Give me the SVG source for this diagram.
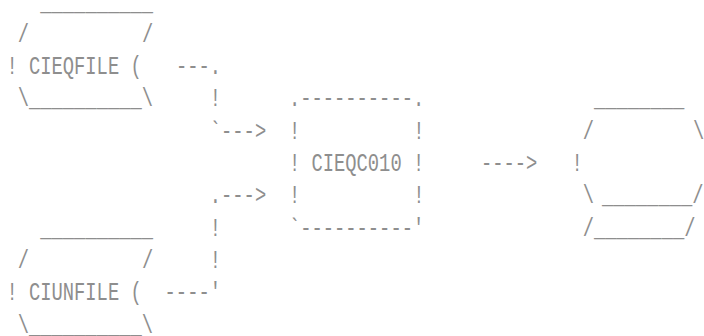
<svg xmlns="http://www.w3.org/2000/svg" width="704" height="336" viewBox="0 0 704 336">
<style>
text{font-family:"Liberation Mono","DejaVu Sans Mono",monospace;font-size:18.8px;fill:#8e8e8e;white-space:pre}
</style>
<rect width="704" height="336" fill="#ffffff"/>
<g id="cieqfile">
<text x="40.3" transform="translate(0 9.5) scale(1 1.35)">__________</text>
<text x="17.7" transform="translate(0 41.8) scale(1 1.35)">/</text>
<text x="142" transform="translate(0 41.8) scale(1 1.35)">/</text>
<text x="6.4" transform="translate(0 74.1) scale(1 1.35)">! CIEQFILE (</text>
<text x="17.7" transform="translate(0 106.4) scale(1 1.35)">\__________\</text>
</g>
<g id="ciunfile">
<text x="40.3" transform="translate(0 235.6) scale(1 1.35)">__________</text>
<text x="17.7" transform="translate(0 267.9) scale(1 1.35)">/</text>
<text x="142" transform="translate(0 267.9) scale(1 1.35)">/</text>
<text x="6.4" transform="translate(0 300.2) scale(1 1.35)">! CIUNFILE (</text>
<text x="17.7" transform="translate(0 332.5) scale(1 1.35)">\__________\</text>
</g>
<g id="cieqc010">
<text x="288.9" transform="translate(0 106.4) scale(1 1.35)">.----------.</text>
<text x="288.9" transform="translate(0 138.7) scale(1 1.35)">!</text>
<text x="413.2" transform="translate(0 138.7) scale(1 1.35)">!</text>
<text x="288.9" transform="translate(0 171) scale(1 1.35)">! CIEQC010 !</text>
<text x="288.9" transform="translate(0 203.3) scale(1 1.35)">!</text>
<text x="413.2" transform="translate(0 203.3) scale(1 1.35)">!</text>
<text x="288.9" transform="translate(0 235.6) scale(1 1.35)">`----------'</text>
</g>
<g id="output">
<text x="594" transform="translate(0 106.4) scale(1 1.35)">________</text>
<text x="582.7" transform="translate(0 138.7) scale(1 1.35)">/</text>
<text x="693" transform="translate(0 138.7) scale(1 1.35)">\</text>
<text x="571.4" transform="translate(0 171) scale(1 1.35)">!</text>
<text x="582.7" transform="translate(0 203.3) scale(1 1.35)">\</text>
<text x="602" transform="translate(0 203.3) scale(1 1.35)">________/</text>
<text x="582.7" transform="translate(0 235.6) scale(1 1.35)">/________/</text>
</g>
<g id="connectors">
<text x="175.9" transform="translate(0 74.1) scale(1 1.35)">---.</text>
<text x="209.8" transform="translate(0 106.4) scale(1 1.35)">!</text>
<text x="209.8" transform="translate(0 138.7) scale(1 1.35)">`---&gt;</text>
<text x="481" transform="translate(0 171) scale(1 1.35)">----&gt;</text>
<text x="209.8" transform="translate(0 203.3) scale(1 1.35)">.---&gt;</text>
<text x="209.8" transform="translate(0 235.6) scale(1 1.35)">!</text>
<text x="209.8" transform="translate(0 267.9) scale(1 1.35)">!</text>
<text x="164.6" transform="translate(0 300.2) scale(1 1.35)">----'</text>
</g>
</svg>
